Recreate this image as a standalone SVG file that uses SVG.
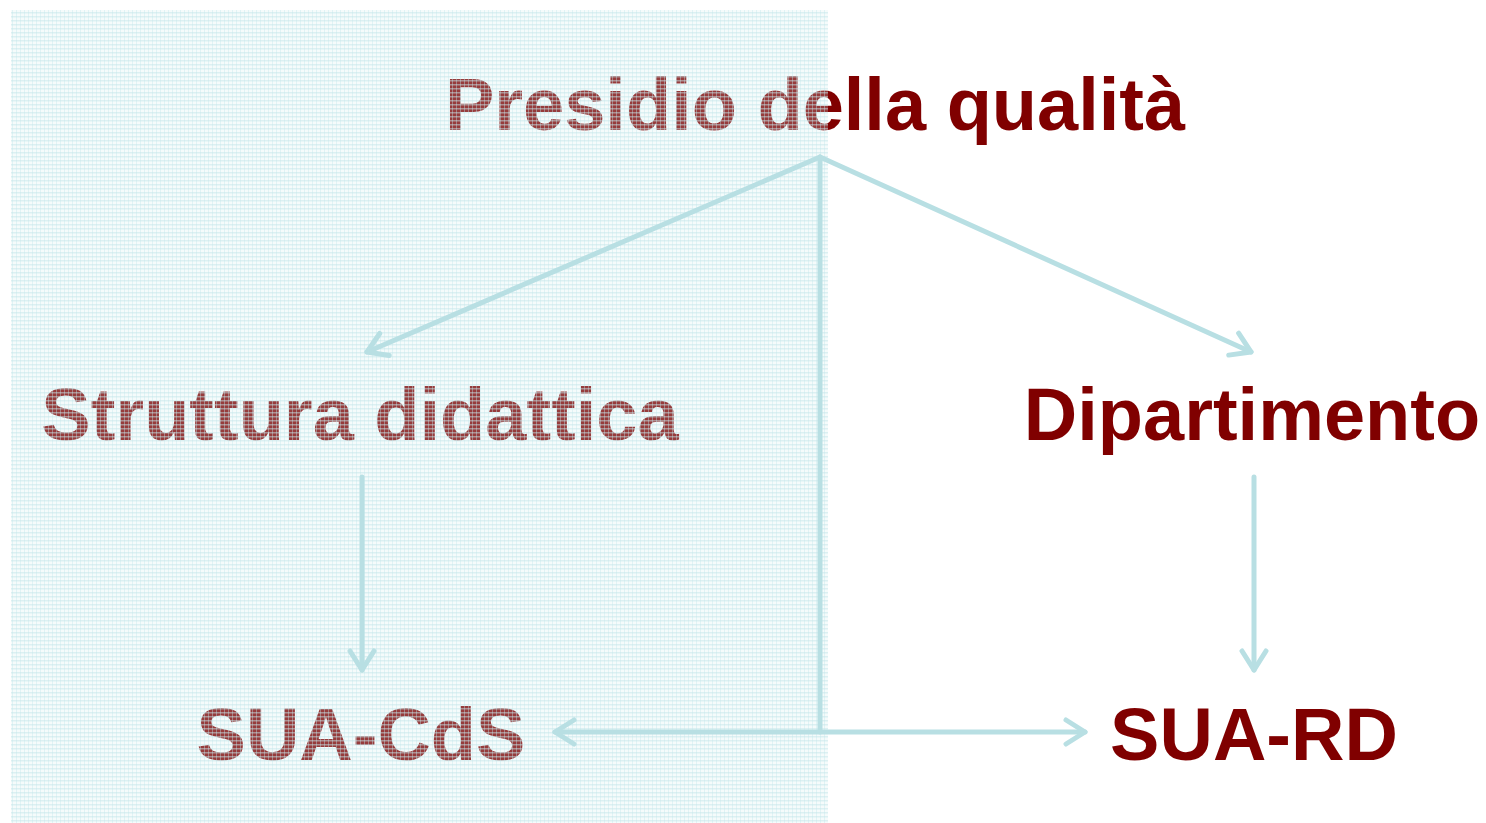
<svg xmlns="http://www.w3.org/2000/svg" width="1486" height="823" viewBox="0 0 1486 823">
<style>
.t{font-family:"Liberation Sans",Arial,sans-serif;font-weight:bold;font-size:74px;fill:#800000;text-anchor:middle}
.c{stroke:#b8dfe3;stroke-width:5;fill:none;stroke-linecap:round;stroke-linejoin:round}
</style>
<defs>
<marker id="ah" viewBox="0 0 26 30" refX="23" refY="15" markerWidth="26" markerHeight="30" markerUnits="userSpaceOnUse" orient="auto-start-reverse">
<path d="M4,3 L23,15 L4,27" fill="none" stroke="#b8dfe3" stroke-width="5" stroke-linecap="round" stroke-linejoin="round"/>
</marker>
<pattern id="grid" width="4" height="4" patternUnits="userSpaceOnUse">
<rect width="4" height="4" fill="#d6eef1" fill-opacity="0.25"/>
<rect y="0" width="4" height="1.5" fill="#c4e5ea" fill-opacity="0.5"/>
<rect x="0" width="1" height="4" fill="#c4e5ea" fill-opacity="0.4"/>
</pattern>
</defs>
<rect width="1486" height="823" fill="#ffffff"/>
<g id="presidio"><text class="t" x="815" y="130">Presidio della qualità</text></g>
<g id="struttura"><text class="t" x="360" y="440">Struttura didattica</text></g>
<g id="dipartimento"><text class="t" x="1252" y="440">Dipartimento</text></g>
<g id="suacds"><text class="t" x="361" y="760">SUA-CdS</text></g>
<g id="suard"><text class="t" x="1254" y="760">SUA-RD</text></g>
<rect id="overlay" x="11" y="10" width="817" height="813" fill="url(#grid)"/>
<g id="connectors">
<line class="c" x1="820" y1="157" x2="820" y2="732"/>
<line class="c" x1="820" y1="157" x2="367" y2="352" marker-end="url(#ah)"/>
<line class="c" x1="820" y1="157" x2="1251" y2="352" marker-end="url(#ah)"/>
<line class="c" x1="555" y1="732" x2="1085" y2="732" marker-start="url(#ah)" marker-end="url(#ah)"/>
<line class="c" x1="362" y1="477" x2="362" y2="670" marker-end="url(#ah)"/>
<line class="c" x1="1254" y1="477" x2="1254" y2="670" marker-end="url(#ah)"/>
</g>
</svg>
